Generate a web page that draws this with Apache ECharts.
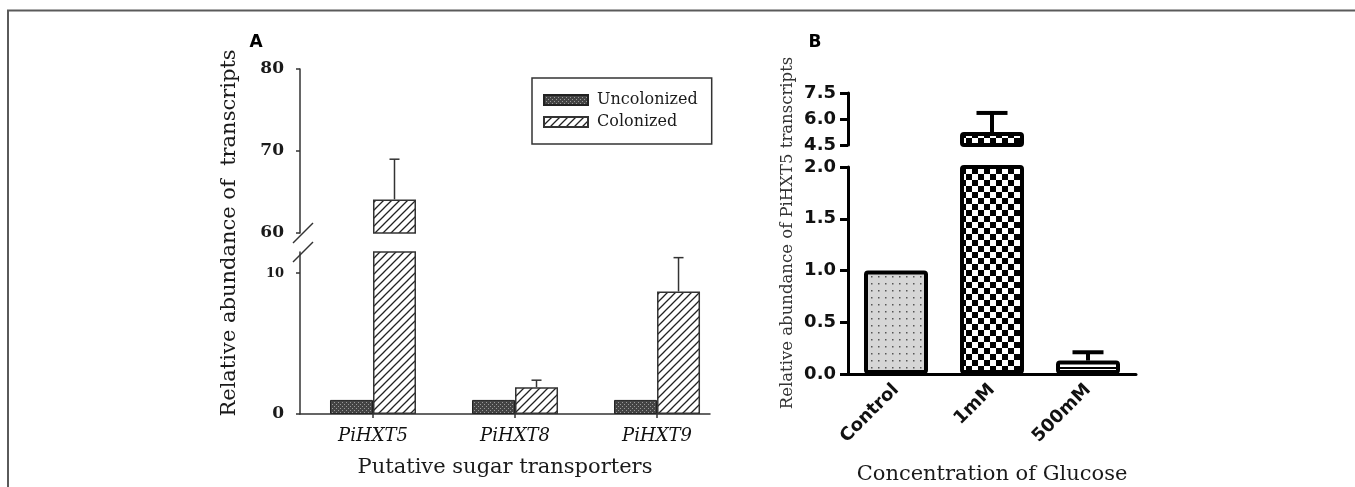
<!DOCTYPE html>
<html>
<head>
<meta charset="utf-8">
<script src="https://cdn.jsdelivr.net/npm/echarts@6/dist/echarts.min.js"></script>
<style>
  html, body { margin: 0; padding: 0; background: #fff; }
  #chart { width: 1355px; height: 487px; }
</style>
</head>
<body>
<div id="chart"></div>
<script>
// panel A: putative sugar transporters, uncolonized vs colonized
const genesA = ['PiHXT5', 'PiHXT8', 'PiHXT9'];
const uncolonized = [1.0, 1.0, 1.0];
const colonized = [64.1, 1.9, 8.7];
const colonizedErr = [4.9, 0.5, 2.4];
const ticksAUpper = [60, 70, 80];
const ticksALower = [0, 10];

// panel B: PiHXT5 vs glucose concentration
const glucose = ['Control', '1mM', '500mM'];
const pihxt5 = [1.0, 5.25, 0.13];
const pihxt5Err = [0, 1.1, 0.08];
const ticksBUpper = [4.5, 6.0, 7.5];
const ticksBLower = [0.0, 0.5, 1.0, 1.5, 2.0];

const SERIF = 'DejaVu Serif';
const SANS = 'DejaVu Sans';
const BAR_A = 43;
const BAR_B = 64;

function makePattern(w, h, draw) {
  const c = document.createElement('canvas');
  c.width = w; c.height = h;
  draw(c.getContext('2d'), w, h);
  return { image: c, repeat: 'repeat' };
}

const hatch = makePattern(8, 8, (ctx, s) => {
  ctx.fillStyle = '#fff'; ctx.fillRect(0, 0, s, s);
  ctx.strokeStyle = '#222'; ctx.lineWidth = 1.3;
  ctx.beginPath();
  ctx.moveTo(0, s); ctx.lineTo(s, 0);
  ctx.moveTo(-s / 2, s / 2); ctx.lineTo(s / 2, -s / 2);
  ctx.moveTo(s / 2, s * 1.5); ctx.lineTo(s * 1.5, s / 2);
  ctx.stroke();
});
const stipple = makePattern(4, 4, (ctx) => {
  ctx.fillStyle = '#444'; ctx.fillRect(0, 0, 4, 4);
  ctx.fillStyle = '#999'; ctx.fillRect(0, 0, 1, 1); ctx.fillRect(2, 2, 1, 1);
});
const dots = makePattern(7, 7, (ctx) => {
  ctx.fillStyle = '#d6d6d6'; ctx.fillRect(0, 0, 7, 7);
  ctx.fillStyle = '#555'; ctx.fillRect(3, 3, 1.5, 1.5);
});
const checker = makePattern(12, 12, (ctx) => {
  ctx.fillStyle = '#fff'; ctx.fillRect(0, 0, 12, 12);
  ctx.fillStyle = '#000'; ctx.fillRect(0, 0, 6, 6); ctx.fillRect(6, 6, 6, 6);
});
const stripes = makePattern(8, 7, (ctx) => {
  ctx.fillStyle = '#fff'; ctx.fillRect(0, 0, 8, 7);
  ctx.fillStyle = '#000'; ctx.fillRect(0, 3, 8, 2);
});
const fillsB = [dots, checker, stripes];

// grids: 0/1 = panel A upper/lower, 2/3 = panel B upper/lower
const grids = [
  { left: 300, top: 69, width: 410, height: 164 },
  { left: 300, top: 252, width: 410, height: 162 },
  { left: 848, top: 93, width: 288, height: 52 },
  { left: 848, top: 167, width: 288, height: 207 },
];

function errorBars(offset, capW, lw, color) {
  return function (params, api) {
    const lo = api.value(1), hi = api.value(2);
    if (hi <= lo) return null;
    const p0 = api.coord([api.value(0), lo]);
    const p1 = api.coord([api.value(0), hi]);
    const cx = p0[0] + offset;
    const st = { stroke: color, lineWidth: lw };
    return {
      type: 'group',
      children: [
        { type: 'line', shape: { x1: cx, y1: p0[1], x2: cx, y2: p1[1] }, style: st },
        { type: 'line', shape: { x1: cx - capW / 2, y1: p1[1], x2: cx + capW / 2, y2: p1[1] }, style: st },
      ],
    };
  };
}

const axA = { onZero: false, lineStyle: { color: '#333', width: 1.5 } };
const axB = { onZero: false, lineStyle: { color: '#000', width: 3 } };

const xAxis = [
  { type: 'value', gridIndex: 0, min: -0.514, max: 2.373, show: false },
  {
    type: 'value', gridIndex: 1, min: -0.514, max: 2.373,
    axisLine: axA, splitLine: { show: false },
    axisTick: { customValues: [0, 1, 2], length: 4, lineStyle: { color: '#333', width: 1.5 } },
    axisLabel: {
      customValues: [0, 1, 2], formatter: (v) => genesA[v], margin: 13,
      fontFamily: SERIF, fontStyle: 'italic', fontSize: 18, color: '#111',
    },
    name: 'Putative sugar transporters', nameLocation: 'middle', nameGap: 43,
    nameTextStyle: { fontFamily: SERIF, fontSize: 21, color: '#1a1a1a' },
  },
  { type: 'category', gridIndex: 2, data: glucose, show: false },
  {
    type: 'category', gridIndex: 3, data: glucose,
    axisLine: axB,
    axisTick: { alignWithLabel: true, length: 8, lineStyle: { color: '#000', width: 3 } },
    axisLabel: {
      rotate: 45, margin: 13, interval: 0,
      fontFamily: SANS, fontWeight: 'bold', fontSize: 18, color: '#111',
    },
    name: 'Concentration of Glucose', nameLocation: 'middle', nameGap: 90,
    nameTextStyle: { fontFamily: SERIF, fontSize: 21, color: '#1a1a1a' },
  },
];

const labA = { fontFamily: SERIF, fontWeight: 'bold', fontSize: 17, color: '#1a1a1a', margin: 16 };
const labB = {
  fontFamily: SANS, fontWeight: 'bold', fontSize: 18, color: '#111', margin: 12,
  formatter: (v) => v.toFixed(1),
};
const yAxis = [
  {
    type: 'value', gridIndex: 0, min: ticksAUpper[0], max: ticksAUpper[ticksAUpper.length - 1],
    interval: ticksAUpper[1] - ticksAUpper[0],
    axisLine: { show: true, ...axA }, splitLine: { show: false },
    axisTick: { show: true, length: 4, lineStyle: { color: '#333', width: 1.5 } },
    axisLabel: labA,
  },
  {
    type: 'value', gridIndex: 1, min: 0, max: 11.5,
    axisLine: { show: true, ...axA }, splitLine: { show: false },
    axisTick: { show: true, customValues: ticksALower, length: 4, lineStyle: { color: '#333', width: 1.5 } },
    axisLabel: {
      ...labA, customValues: ticksALower,
      formatter: (v) => (v === 10 ? '{s|' + v + '}' : '{b|' + v + '}'),
      rich: {
        s: { fontFamily: SERIF, fontWeight: 'bold', fontSize: 13, color: '#1a1a1a' },
        b: { fontFamily: SERIF, fontWeight: 'bold', fontSize: 17, color: '#1a1a1a' },
      },
    },
  },
  {
    type: 'value', gridIndex: 2, min: ticksBUpper[0], max: ticksBUpper[ticksBUpper.length - 1],
    interval: ticksBUpper[1] - ticksBUpper[0],
    axisLine: { show: true, ...axB }, splitLine: { show: false },
    axisTick: { show: true, length: 8, lineStyle: { color: '#000', width: 3 } },
    axisLabel: labB,
  },
  {
    type: 'value', gridIndex: 3, min: ticksBLower[0], max: ticksBLower[ticksBLower.length - 1],
    interval: ticksBLower[1] - ticksBLower[0],
    axisLine: { show: true, ...axB }, splitLine: { show: false },
    axisTick: { show: true, length: 8, lineStyle: { color: '#000', width: 3 } },
    axisLabel: labB,
  },
];

const series = [];
[0, 1].forEach((g) => {
  series.push({
    name: 'Uncolonized', type: 'bar', xAxisIndex: g, yAxisIndex: g,
    data: uncolonized.map((v, i) => [i, v]),
    barWidth: BAR_A, barGap: '0%', clip: true,
    itemStyle: { color: stipple, borderColor: '#222', borderWidth: 1 },
  });
  series.push({
    name: 'Colonized', type: 'bar', xAxisIndex: g, yAxisIndex: g,
    data: colonized.map((v, i) => [i, v]),
    barWidth: BAR_A, barGap: '0%', clip: true,
    itemStyle: { color: hatch, borderColor: '#333', borderWidth: 1.5 },
  });
  series.push({
    type: 'custom', xAxisIndex: g, yAxisIndex: g, clip: true, z: 3,
    data: colonized.map((v, i) => [i, v, v + colonizedErr[i]]),
    renderItem: errorBars(BAR_A / 2, 10, 1.5, '#333'),
  });
});
[2, 3].forEach((g) => {
  series.push({
    name: 'PiHXT5', type: 'bar', xAxisIndex: g, yAxisIndex: g, clip: true,
    barWidth: BAR_B,
    data: pihxt5.map((v, i) => ({ value: v, itemStyle: { color: fillsB[i] } })),
    itemStyle: { borderColor: '#000', borderWidth: 4, borderRadius: 2 },
  });
  series.push({
    type: 'custom', xAxisIndex: g, yAxisIndex: g, clip: true, z: 3,
    data: pihxt5.map((v, i) => [i, v, v + pihxt5Err[i]]),
    renderItem: errorBars(0, 31, 4, '#000'),
  });
});

const slash = (cy) => ({
  type: 'line', shape: { x1: 293, y1: cy + 10, x2: 313, y2: cy - 10 },
  style: { stroke: '#333', lineWidth: 1.5 },
});

const option = {
  animation: false,
  backgroundColor: '#fff',
  grid: grids.map((g) => ({ ...g, outerBoundsMode: 'none' })),
  legend: {
    data: ['Uncolonized', 'Colonized'],
    orient: 'vertical', left: 532, top: 78,
    padding: [14, 14, 14, 11], itemGap: 6, icon: 'rect',
    itemWidth: 44, itemHeight: 10,
    borderColor: '#333', borderWidth: 1.5,
    textStyle: { fontFamily: SERIF, fontSize: 16, color: '#1a1a1a', padding: [0, 0, 0, 4] },
    selectedMode: false,
  },
  xAxis, yAxis, series,
  graphic: [
    { type: 'rect', shape: { x: 8, y: 10.5, width: 1400, height: 600 }, style: { fill: 'none', stroke: '#5a5a5a', lineWidth: 2 }, silent: true },
    { type: 'text', x: 256, y: 43, style: { text: 'A', font: 'bold 17px "DejaVu Sans"', fill: '#000', textAlign: 'center', textVerticalAlign: 'middle' } },
    { type: 'text', x: 815, y: 43, style: { text: 'B', font: 'bold 17px "DejaVu Sans"', fill: '#000', textAlign: 'center', textVerticalAlign: 'middle' } },
    { type: 'text', x: 230, y: 233, rotation: Math.PI / 2, style: { text: 'Relative abundance of  transcripts', font: '21px "DejaVu Serif"', fill: '#1a1a1a', textAlign: 'center', textVerticalAlign: 'middle' } },
    { type: 'text', x: 788, y: 233, rotation: Math.PI / 2, style: { text: 'Relative abundance of PiHXT5 transcripts', font: '16.5px "DejaVu Serif"', fill: '#333', textAlign: 'center', textVerticalAlign: 'middle' } },
    slash(233),
    slash(252),
  ],
};

const chart = echarts.init(document.getElementById('chart'));
chart.setOption(option);
</script>
</body>
</html>
